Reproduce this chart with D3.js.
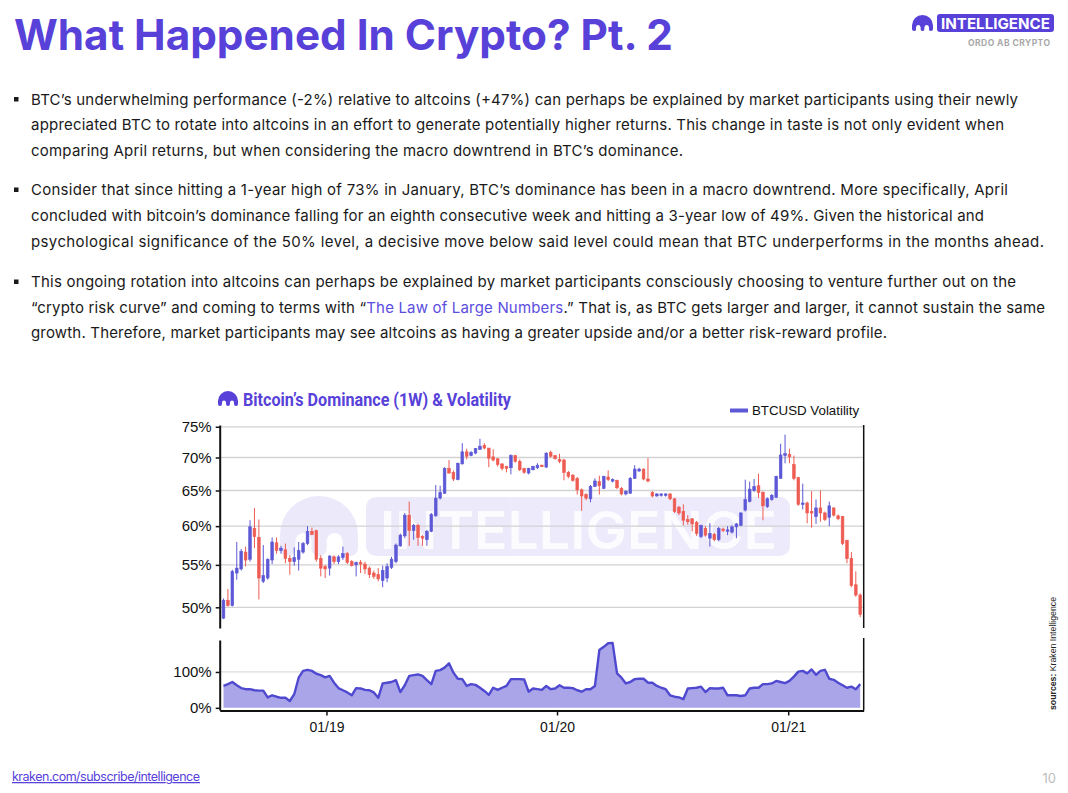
<!DOCTYPE html>
<html>
<head>
<meta charset="utf-8">
<script src="https://cdn.jsdelivr.net/npm/d3@7"></script>
<style>
  body { margin: 0; background: #fff; }
  svg { display: block; }
</style>
</head>
<body>
<svg id="page"></svg>
<script>
// BTC dominance weekly candles (percent), first week starts 2018-07-22
var firstWeek = "2018-07-22";
var domOpen = [48.8,50.8,50.2,54.0,54.5,56.6,55.7,59.7,58.5,53.0,53.4,55.6,57.8,56.8,56.9,55.8,55.4,55.7,56.6,57.7,
  59.3,59.4,55.8,54.8,54.6,56.0,55.4,55.9,56.4,55.4,55.0,55.3,55.1,54.6,54.0,53.8,53.1,53.4,54.7,55.4,
  57.4,58.7,61.5,59.4,60.1,58.6,58.2,59.3,61.4,63.9,64.6,68.3,67.7,66.6,69.0,70.9,70.3,70.7,71.3,71.9,
  71.5,70.1,69.8,69.0,68.6,68.4,70.3,69.4,68.3,67.6,68.1,68.4,68.8,68.5,70.8,70.3,69.7,69.6,67.7,67.3,
  66.8,65.1,64.4,63.8,65.6,66.3,65.3,67.0,66.4,66.5,65.3,64.5,64.6,66.8,67.9,68.2,66.7,64.7,64.2,64.3,
  64.3,64.5,63.8,62.6,62.0,60.9,61.0,60.5,58.6,59.7,58.4,58.9,58.2,59.6,59.35,59.2,59.9,60.1,62.2,63.4,
  65.0,65.7,64.7,62.7,63.7,64.0,66.8,70.3,70.5,68.9,66.9,63.0,63.2,62.0,61.3,62.5,61.8,61.2,62.5,61.4,
  61.3,58.1,55.8,52.6,51.4];
var domHigh = [51.0,52.1,54.4,57.9,57.0,57.3,60.8,62.5,60.9,57.5,55.8,58.5,58.5,57.4,57.7,56.2,57.2,57.9,57.9,60.0,
  59.8,59.5,56.2,55.0,56.2,56.2,56.2,57.3,56.6,55.6,55.4,55.6,55.4,54.8,54.3,54.6,54.9,55.2,56.0,57.7,
  59.0,61.8,63.4,60.3,60.3,58.8,59.5,61.8,65.8,65.7,68.5,69.6,68.0,69.2,72.3,71.4,71.0,71.5,73.0,72.3,
  71.5,71.3,69.9,69.1,68.7,70.5,70.4,69.7,68.4,68.4,68.7,69.1,68.9,70.8,71.1,70.4,70.6,69.8,67.9,67.4,
  67.0,65.3,64.6,65.8,66.8,67.2,67.2,68.0,66.8,66.6,65.5,65.0,67.0,68.8,68.4,68.3,69.9,64.9,64.6,64.6,
  64.6,64.6,63.9,62.8,63.0,61.5,61.1,60.7,60.2,60.0,60.4,59.1,59.9,59.8,60.0,60.1,60.4,61.9,66.6,66.3,
  66.7,67.5,64.9,64.0,64.5,67.2,72.2,73.7,71.4,70.3,67.0,66.0,63.4,64.9,63.7,65.0,62.0,63.4,62.6,61.6,
  61.4,58.2,56.6,54.2,51.6];
var domLow = [48.7,50.1,50.1,53.2,54.3,54.8,55.4,57.1,50.9,52.8,53.2,55.1,56.4,56.4,55.2,53.8,54.9,54.3,56.4,57.5,
  58.8,55.4,53.6,53.4,53.7,55.1,55.1,55.6,55.1,54.8,53.6,54.0,53.9,53.4,53.3,53.0,52.3,52.9,54.5,55.2,
  57.3,58.4,57.4,58.2,57.4,57.4,57.4,59.2,61.3,63.7,64.5,67.5,66.4,66.5,68.9,69.7,70.2,70.5,71.2,71.3,
  68.5,69.4,68.6,68.0,67.7,67.4,69.2,67.9,67.5,67.4,68.0,68.2,68.5,68.4,70.0,69.7,69.1,66.5,66.8,66.3,
  64.4,62.1,63.6,63.3,65.5,64.4,65.2,66.4,66.2,65.2,64.3,64.3,64.5,66.7,67.8,66.5,66.2,64.0,64.1,64.1,
  64.1,63.6,61.8,61.5,60.1,60.2,59.3,58.7,58.4,58.6,57.3,58.0,58.0,59.2,58.8,59.0,58.4,60.0,62.0,63.3,
  64.8,63.9,60.8,62.5,63.5,63.9,66.7,69.1,69.1,66.5,62.8,62.3,60.4,59.8,60.3,60.6,60.7,60.0,61.3,60.8,
  57.5,55.2,52.3,51.2,48.9];
var domClose = [50.8,50.2,54.2,54.6,56.7,55.6,59.9,58.6,53.4,53.7,55.7,57.9,56.8,57.1,55.8,55.4,55.9,56.8,57.7,59.3,
  58.9,55.7,54.6,54.5,56.1,55.4,56.0,56.4,55.3,54.9,55.3,55.1,54.5,53.8,53.6,53.3,54.3,54.8,55.7,57.5,
  58.8,61.5,59.4,60.1,58.5,58.4,59.3,61.6,63.9,64.7,68.3,67.6,66.7,69.1,70.9,70.2,70.8,71.4,71.8,71.5,
  69.9,69.6,68.9,68.3,68.3,70.3,69.4,68.1,67.7,68.3,68.6,68.8,68.6,70.7,70.2,69.8,69.4,67.7,67.1,66.5,
  65.1,64.2,63.9,65.6,66.4,65.7,67.1,66.6,66.6,65.4,64.5,64.9,66.8,68.2,68.2,66.7,66.4,64.2,64.5,64.5,
  64.5,63.8,62.0,61.8,60.8,60.6,60.3,59.0,60.1,58.8,59.0,58.2,59.7,59.4,59.5,59.9,60.3,61.8,63.7,65.2,
  65.6,64.7,62.8,63.8,64.3,67.1,70.4,70.6,70.1,66.8,63.0,63.2,61.8,61.8,62.5,61.8,60.9,62.8,61.5,61.0,
  57.7,55.8,52.5,51.4,49.2];
// BTCUSD volatility (percent), same weeks
var volatility = [61,66,72,63,55,52,52,49,48,48,29,35,31,28,28,19,38,84,103,106,
  103,95,91,85,89,70,55,49,43,35,55,54,50,49,43,28,68,70,72,77,
  44,63,89,91,93,89,77,66,103,105,112,124,98,81,80,61,66,64,56,47,
  36,56,50,56,61,80,80,80,79,45,54,52,50,61,52,54,63,56,56,55,
  49,45,52,52,61,161,170,180,181,96,84,68,72,80,81,81,70,70,61,56,
  52,35,31,29,24,54,55,56,59,44,55,54,54,56,35,35,35,33,35,54,
  56,56,66,66,68,75,72,69,75,87,101,103,96,107,92,103,106,81,78,70,
  63,56,59,52,66];
var domTicks = [50, 55, 60, 65, 70, 75];
var volTicks = [0, 100];
var dateTicks = ["2019-01-01", "2020-01-01", "2021-01-01"];

var purple = "#5741d9";
var candleUp = "#5c58d6", candleDown = "#ee5b52";

var svg = d3.select("#page").attr("width", 1068).attr("height", 793);

// draws the kraken arch glyph
function glyph(g, x, y, w, h, color, gap) {
  var r = w / 2, lw = w * 0.2;
  g.append("path")
    .attr("d", "M" + x + "," + (y + r) + " A" + r + "," + r + " 0 0 1 " + (x + w) + "," + (y + r) +
      " L" + (x + w) + "," + (y + r * 1.15) + " L" + x + "," + (y + r * 1.15) + " Z")
    .attr("fill", color);
  [0, 0.4, 0.8].forEach(function (f) {
    g.append("rect").attr("x", x + f * w).attr("y", y + r * 0.9)
      .attr("width", lw).attr("height", h - r * 0.9).attr("rx", lw / 2).attr("fill", color);
  });
  [0.2, 0.6].forEach(function (f) {
    g.append("rect").attr("x", x + f * w).attr("y", y + r * 0.95)
      .attr("width", lw).attr("height", h - r * 0.95 + 1).attr("rx", lw / 2).attr("fill", gap);
  });
}

// ---------- page header ----------
var title = svg.append("text")
  .attr("x", 14).attr("y", 50)
  .attr("font-family", "Inter, 'Open Sans', sans-serif")
  .attr("font-weight", 700).attr("font-size", 43)
  .attr("fill", purple)
  .text("What Happened In Crypto? Pt. 2");
var tw = title.node().getComputedTextLength();
title.attr("font-size", 43 * 659 / tw);

var logo = svg.append("g");
glyph(logo, 912, 15, 21, 16, purple, "#fff");
logo.append("rect").attr("x", 937).attr("y", 14).attr("width", 117).attr("height", 18)
  .attr("rx", 3).attr("fill", purple);
logo.append("text").attr("x", 995.5).attr("y", 28.5).attr("text-anchor", "middle")
  .attr("font-family", "Inter, sans-serif").attr("font-weight", 700).attr("font-size", 15)
  .attr("fill", "#fff").attr("textLength", 109).attr("lengthAdjust", "spacingAndGlyphs")
  .text("INTELLIGENCE");
logo.append("text").attr("x", 968).attr("y", 46)
  .attr("font-family", "Inter, sans-serif").attr("font-weight", 700).attr("font-size", 8.5)
  .attr("fill", "#a8a8a8").attr("textLength", 82).attr("lengthAdjust", "spacing")
  .text("ORDO AB CRYPTO");

// ---------- bullet text ----------
var lines = [
  { y: 104.5, end: 1018, bullet: true, parts: [["BTC’s underwhelming performance (-2%) relative to altcoins (+47%) can perhaps be explained by market participants using their newly"]] },
  { y: 130, end: 1004, parts: [["appreciated BTC to rotate into altcoins in an effort to generate potentially higher returns. This change in taste is not only evident when"]] },
  { y: 155.5, end: 683, parts: [["comparing April returns, but when considering the macro downtrend in BTC’s dominance."]] },
  { y: 195, end: 1008, bullet: true, parts: [["Consider that since hitting a 1-year high of 73% in January, BTC’s dominance has been in a macro downtrend. More specifically, April"]] },
  { y: 221, end: 984, parts: [["concluded with bitcoin’s dominance falling for an eighth consecutive week and hitting a 3-year low of 49%. Given the historical and"]] },
  { y: 246.5, end: 1044, parts: [["psychological significance of the 50% level, a decisive move below said level could mean that BTC underperforms in the months ahead."]] },
  { y: 287, end: 1016, bullet: true, parts: [["This ongoing rotation into altcoins can perhaps be explained by market participants consciously choosing to venture further out on the"]] },
  { y: 312.5, end: 1045, parts: [["“crypto risk curve” and coming to terms with “"], ["The Law of Large Numbers", "#5b4de0"], [".” That is, as BTC gets larger and larger, it cannot sustain the same"]] },
  { y: 338, end: 887, parts: [["growth. Therefore, market participants may see altcoins as having a greater upside and/or a better risk-reward profile."]] }
];
lines.forEach(function (l) {
  if (l.bullet) {
    svg.append("rect").attr("x", 14).attr("y", l.y - 7.5).attr("width", 4.5).attr("height", 4.5).attr("fill", "#1a1a1a");
  }
  var t = svg.append("text").attr("x", 31).attr("y", l.y)
    .attr("font-family", "Inter, 'Open Sans', sans-serif").attr("font-size", 15)
    .attr("fill", "#1a1a1a")
    .attr("textLength", l.end - 31).attr("lengthAdjust", "spacing");
  l.parts.forEach(function (p) {
    t.append("tspan").attr("fill", p[1] || "#1a1a1a").text(p[0]);
  });
});

// ---------- chart ----------
var plotLeft = 219.7, plotRight = 863.7;
var domTop = 425, domBottom = 628, volTop = 640, volBottom = 710;

var parse = d3.timeParse("%Y-%m-%d");
var start = parse(firstWeek);
var dates = domClose.map(function (d, i) { return d3.timeDay.offset(start, 7 * i); });
var dayMs = 864e5;

var x = d3.scaleTime()
  .domain([new Date(+dates[0] - 6 * dayMs), new Date(+dates[dates.length - 1] + 5.5 * dayMs)])
  .range([plotLeft, plotRight]);
var yDom = d3.scaleLog().domain([47.73, 75.3]).range([domBottom, domTop]);
var yVol = d3.scaleLinear().domain([-6, 189]).range([volBottom, volTop]);

var chart = svg.append("g");

// watermark
var wm = chart.append("g").attr("opacity", 0.11);
glyph(wm, 280, 496, 78, 60, purple, "#fff");
wm.append("rect").attr("x", 366).attr("y", 497).attr("width", 424).attr("height", 59).attr("rx", 10).attr("fill", purple);
chart.append("text").attr("x", 380).attr("y", 549)
  .attr("font-family", "Inter, sans-serif").attr("font-weight", 600).attr("font-size", 52)
  .attr("fill", "#fff").attr("opacity", 0.85)
  .attr("textLength", 397).attr("lengthAdjust", "spacingAndGlyphs")
  .text("INTELLIGENCE");

// chart title
glyph(chart, 218, 391, 20, 15, purple, "#fff");
chart.append("text").attr("x", 243).attr("y", 406)
  .attr("font-family", "Roboto, sans-serif").attr("font-weight", 700).attr("font-size", 19)
  .attr("fill", purple).attr("textLength", 268).attr("lengthAdjust", "spacingAndGlyphs")
  .text("Bitcoin’s Dominance (1W) & Volatility");

// legend
chart.append("line").attr("x1", 730).attr("x2", 748).attr("y1", 410.5).attr("y2", 410.5)
  .attr("stroke", candleUp).attr("stroke-width", 4);
chart.append("text").attr("x", 752).attr("y", 415)
  .attr("font-family", "'Liberation Sans', Arial, sans-serif").attr("font-size", 13.3)
  .attr("fill", "#111").text("BTCUSD Volatility");

// grid
chart.append("g").selectAll("line").data(domTicks).enter().append("line")
  .attr("x1", plotLeft).attr("x2", plotRight)
  .attr("y1", function (d) { return yDom(d); }).attr("y2", function (d) { return yDom(d); })
  .attr("stroke", "#d2d2d2").attr("stroke-width", 1.3);
chart.append("line").attr("x1", plotLeft).attr("x2", plotRight)
  .attr("y1", yVol(100)).attr("y2", yVol(100))
  .attr("stroke", "#dcdcdc").attr("stroke-width", 1.2);

// candles
var candles = chart.append("g").selectAll("g").data(domClose).enter().append("g")
  .attr("fill", function (d, i) { return d >= domOpen[i] ? candleUp : candleDown; })
  .attr("stroke", function (d, i) { return d >= domOpen[i] ? candleUp : candleDown; });
candles.append("line")
  .attr("x1", function (d, i) { return x(dates[i]); })
  .attr("x2", function (d, i) { return x(dates[i]); })
  .attr("y1", function (d, i) { return yDom(domHigh[i]); })
  .attr("y2", function (d, i) { return yDom(domLow[i]); })
  .attr("stroke-width", 1);
candles.append("rect")
  .attr("x", function (d, i) { return x(dates[i]) - 1.35; })
  .attr("width", 2.7)
  .attr("y", function (d, i) { return yDom(Math.max(d, domOpen[i])); })
  .attr("height", function (d, i) {
    return Math.max(1.5, yDom(Math.min(d, domOpen[i])) - yDom(Math.max(d, domOpen[i])));
  })
  .attr("stroke-width", 0.6);

// volatility area
var area = d3.area()
  .x(function (d, i) { return x(dates[i]); })
  .y0(yVol(0))
  .y1(function (d) { return yVol(d); });
var line = d3.line()
  .x(function (d, i) { return x(dates[i]); })
  .y(function (d) { return yVol(d); });
chart.append("path").datum(volatility).attr("d", area).attr("fill", "#aaa5e8");
chart.append("path").datum(volatility).attr("d", line)
  .attr("fill", "none").attr("stroke", "#4f49d0").attr("stroke-width", 2.4)
  .attr("stroke-linejoin", "round");

// axes
var axisFont = "'Liberation Sans', Arial, sans-serif";
function styleAxis(g, width) {
  g.select(".domain").attr("stroke", "#111").attr("stroke-width", width);
  g.selectAll(".tick line").attr("stroke", "#111").attr("stroke-width", 1.5);
  g.selectAll(".tick text").attr("font-family", axisFont).attr("fill", "#111");
}

chart.append("g").attr("transform", "translate(" + plotLeft + ",0)")
  .call(d3.axisLeft(yDom).tickValues(domTicks).tickFormat(function (d) { return d + "%"; })
    .tickSize(4).tickSizeOuter(0).tickPadding(4))
  .call(styleAxis, 2)
  .selectAll(".tick text").attr("font-size", 15);

chart.append("g").attr("transform", "translate(" + plotLeft + ",0)")
  .call(d3.axisLeft(yVol).tickValues(volTicks).tickFormat(function (d) { return d + "%"; })
    .tickSize(4).tickSizeOuter(0).tickPadding(4))
  .call(styleAxis, 2)
  .selectAll(".tick text").attr("font-size", 15);

chart.append("line").attr("x1", plotRight).attr("x2", plotRight)
  .attr("y1", domTop).attr("y2", domBottom).attr("stroke", "#111").attr("stroke-width", 1.5);
chart.append("line").attr("x1", plotRight).attr("x2", plotRight)
  .attr("y1", volTop - 2).attr("y2", volBottom).attr("stroke", "#111").attr("stroke-width", 1.5);

chart.append("g").attr("transform", "translate(0," + (volBottom + 0.5) + ")")
  .call(d3.axisBottom(x).tickValues(dateTicks.map(parse)).tickFormat(d3.timeFormat("%m/%y"))
    .tickSize(5).tickSizeOuter(0).tickPadding(7))
  .call(styleAxis, 2)
  .selectAll(".tick text").attr("font-size", 14);

// sources
svg.append("text").attr("transform", "translate(1056,710) rotate(-90)")
  .attr("font-family", axisFont).attr("font-size", 9.5).attr("fill", "#222")
  .attr("textLength", 113).attr("lengthAdjust", "spacingAndGlyphs")
  .call(function (t) {
    t.append("tspan").attr("font-weight", 700).text("sources:");
    t.append("tspan").text(" Kraken Intelligence");
  });

// footer
svg.append("text").attr("x", 12).attr("y", 781)
  .attr("font-family", "Inter, sans-serif").attr("font-size", 12.5)
  .attr("fill", purple).attr("text-decoration", "underline")
  .attr("textLength", 188).attr("lengthAdjust", "spacing")
  .text("kraken.com/subscribe/intelligence");
svg.append("text").attr("x", 1056).attr("y", 783).attr("text-anchor", "end")
  .attr("font-family", "Inter, sans-serif").attr("font-size", 13)
  .attr("fill", "#bdbdbd").text("10");
</script>
</body>
</html>
